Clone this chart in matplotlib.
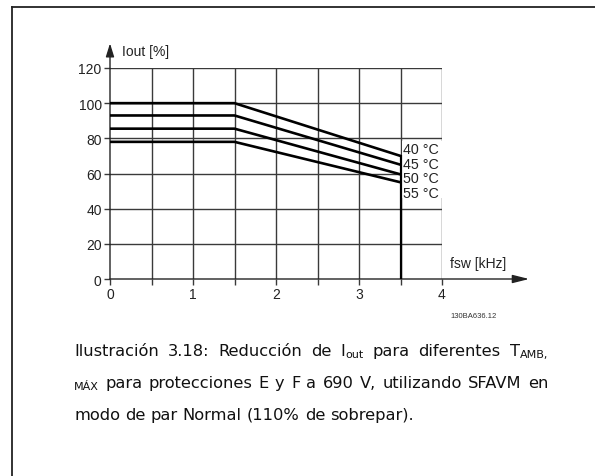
import matplotlib
matplotlib.use("Agg")
import matplotlib.pyplot as plt
from matplotlib.lines import Line2D
from matplotlib.patches import Rectangle

# Derating curves: output current vs switching frequency
freq = [0, 1.5, 3.5]
i_40 = [100, 100, 70]
i_45 = [93, 93, 65]
i_50 = [85.5, 85.5, 59.5]
i_55 = [78, 78, 55]
curves = [i_40, i_45, i_50, i_55]
temp_labels = ["40 °C", "45 °C", "50 °C", "55 °C"]
temp_label_y = [74, 65.5, 57.3, 49]

x_ticks = [0, 1, 2, 3, 4]
y_ticks = [0, 20, 40, 60, 80, 100, 120]

W, H = 595, 477
fig = plt.figure(figsize=(W / 100, H / 100), dpi=100)
ax = fig.add_axes([110 / W, 1 - 280 / H, 332 / W, 211 / H])
ax.set_xlim(0, 4)
ax.set_ylim(0, 120)
for s in ax.spines.values():
    s.set_visible(False)

grid_c = "#3a3a3a"
for gx in [0.5 * k for k in range(1, 9)]:
    ax.plot([gx, gx], [0, 120], color=grid_c, lw=1.0, zorder=1)
for gy in y_ticks[1:]:
    ax.plot([0, 4], [gy, gy], color=grid_c, lw=1.0, zorder=1)

ax.set_xticks(x_ticks)
ax.set_xticks([0.5, 1.5, 2.5, 3.5], minor=True)
ax.set_yticks(y_ticks)
ax.tick_params(axis="both", which="both", direction="out", length=4, width=1.0,
               color=grid_c, labelsize=10, pad=2, labelcolor="#222222")
for lab in ax.get_xticklabels() + ax.get_yticklabels():
    lab.set_fontfamily("Liberation Sans")

# axes with arrow heads
ax.annotate("", xy=(0, 134), xytext=(0, 0), annotation_clip=False,
            arrowprops=dict(arrowstyle="-|>,head_length=0.8,head_width=0.25",
                            color="#222222", lw=1.0, shrinkA=0, shrinkB=0), zorder=3)
ax.annotate("", xy=(5.05, 0), xytext=(0, 0), annotation_clip=False,
            arrowprops=dict(arrowstyle="-|>,head_length=1.0,head_width=0.25",
                            color="#222222", lw=1.0, shrinkA=0, shrinkB=0), zorder=3)
ax.text(0.15, 129.5, "Iout [%]", fontsize=10, family="Liberation Sans",
        va="center", ha="left", color="#222222", clip_on=False)
ax.text(4.1, 9, "fsw [kHz]", fontsize=10, family="Liberation Sans",
        va="center", ha="left", color="#222222", clip_on=False)

# white panel behind the temperature labels
ax.add_patch(Rectangle((3.52, 46), 0.51, 32.5, facecolor="white",
                       edgecolor="none", zorder=2, clip_on=False))
for ys in curves:
    ax.plot(freq, ys, color="black", lw=1.9, zorder=4, solid_capstyle="butt")
ax.plot([3.5, 3.5], [0, i_40[-1]], color="black", lw=1.6, zorder=4)
for lab, ly in zip(temp_labels, temp_label_y):
    ax.text(3.53, ly, lab, fontsize=10.3, family="Liberation Sans",
            va="center", ha="left", color="#222222", zorder=5, clip_on=False)

fig.text(497 / W, 1 - 317 / H, "130BA636.12", fontsize=5.5, family="Liberation Sans",
         ha="right", va="center", color="#333333")

# frame lines
fig.add_artist(Line2D([12 / W, 12 / W], [0, 1 - 7.5 / H], color="#222222", lw=1.3))
fig.add_artist(Line2D([12 / W, 1], [1 - 7.5 / H, 1 - 7.5 / H], color="#222222", lw=1.3))

# caption, justified with sub-scripted pieces
renderer = fig.canvas.get_renderer()
cap_font = "DejaVu Sans"
big, small = 11.7, 8.0


def piece_width(txt, size):
    t = fig.text(0, 0, txt, fontsize=size, family=cap_font)
    w = t.get_window_extent(renderer).width
    t.remove()
    return w


space_w = piece_width("a a", big) - piece_width("aa", big)


def draw_line(words, x0, y, width=None):
    widths = [sum(piece_width(p, small if sub else big) for p, sub in w) for w in words]
    gap = space_w
    if width is not None and len(words) > 1:
        gap = (width - sum(widths)) / (len(words) - 1)
    x = x0
    for w, ww in zip(words, widths):
        xp = x
        for p, sub in w:
            size = small if sub else big
            fig.text(xp / W, 1 - (y + (2 if sub else 0)) / H, p, fontsize=size,
                     family=cap_font, ha="left", va="baseline", color="#111111")
            xp += piece_width(p, size)
        x += ww + gap


line1 = [[("Ilustración", False)], [("3.18:", False)], [("Reducción", False)],
         [("de", False)], [("I", False), ("out", True)], [("para", False)],
         [("diferentes", False)], [("T", False), ("AMB,", True)]]
line2 = [[("MÁX", True)], [("para", False)], [("protecciones", False)], [("E", False)],
         [("y", False)], [("F", False)], [("a", False)], [("690", False)], [("V,", False)],
         [("utilizando", False)], [("SFAVM", False)], [("en", False)]]
line3 = [[(w, False)] for w in "modo de par Normal (110% de sobrepar).".split()]

draw_line(line1, 74, 356, width=474)
draw_line(line2, 74, 388, width=474)
draw_line(line3, 74, 420)

fig.savefig("out.png", dpi=100)
